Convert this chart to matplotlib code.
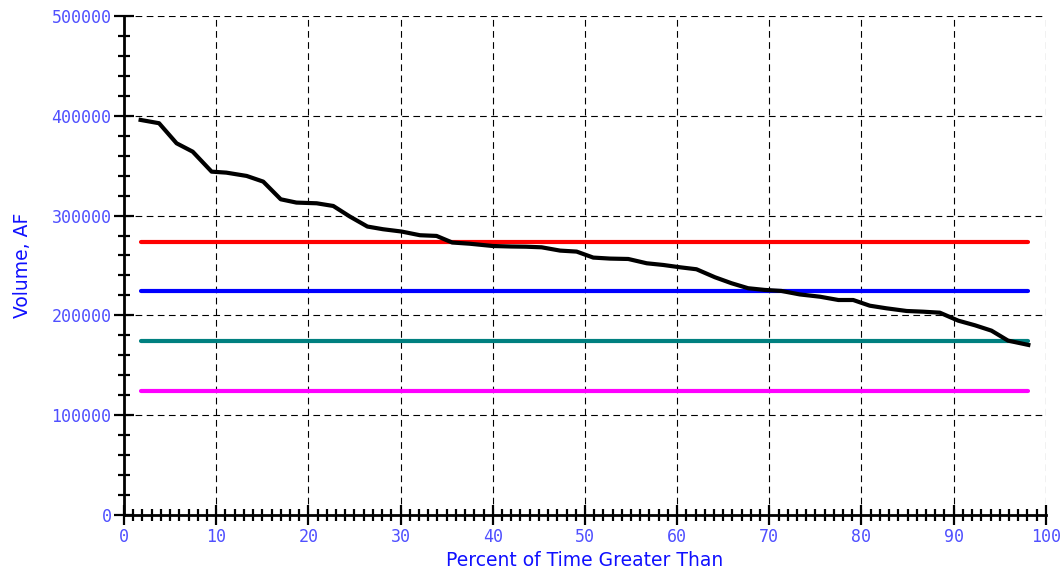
import numpy as np
import matplotlib.pyplot as plt
from matplotlib.ticker import MultipleLocator

# exceedance curve
pct_time = [1.8, 3.8, 5.7, 7.45, 9.5, 11.1, 13.3, 15.1, 17.0, 18.7, 20.9, 22.7,
            24.5, 26.4, 28.1, 30.1, 32.1, 33.9, 35.6, 37.5, 40.0, 42.0, 43.6,
            45.3, 47.3, 49.1, 50.9, 52.7, 54.7, 56.7, 58.5, 60.3, 62.1, 64.1,
            65.9, 67.7, 69.5, 71.3, 73.3, 75.5, 77.5, 79.1, 80.9, 82.7, 84.9,
            86.7, 88.5, 90.5, 92.3, 94.1, 95.9, 98.1]
volume = [395800, 392500, 372400, 364000, 344000, 343000, 339700, 334000,
          316300, 313000, 312300, 309600, 299000, 289000, 286300, 284000,
          280300, 279600, 273000, 271800, 269500, 269000, 268800, 268200,
          264900, 263900, 257900, 256900, 256500, 252200, 250500, 248200,
          246200, 238200, 232200, 227200, 225500, 224500, 221000, 218700,
          215400, 215400, 209700, 207100, 204400, 203700, 202700, 194700,
          190100, 184700, 174700, 170400]

# reference levels
levels = [274000, 224000, 174000, 124000]
level_colors = ['#ff0000', '#0000ff', '#008080', '#ff00ff']
x_span = [1.8, 98.1]

tick_color = '#5050ff'
label_color = '#1010ff'

fig = plt.figure(figsize=(10.62, 5.73), dpi=100)
ax = fig.add_axes([0.1168, 0.1012, 0.868, 0.871])

for lvl, c in zip(levels, level_colors):
    ax.plot(x_span, [lvl, lvl], color=c, lw=3.0, solid_capstyle='round', zorder=3)

ax.plot(pct_time, volume, color='black', lw=3.0, solid_joinstyle='round', zorder=4)

ax.set_xlim(0, 100)
ax.set_ylim(0, 500000)
ax.xaxis.set_major_locator(MultipleLocator(10))
ax.xaxis.set_minor_locator(MultipleLocator(1))
ax.yaxis.set_major_locator(MultipleLocator(100000))
ax.yaxis.set_minor_locator(MultipleLocator(20000))

ax.grid(True, which='major', color='black', lw=0.8, linestyle=(0, (6, 4)))
ax.set_axisbelow(True)

for side in ['top', 'right']:
    ax.spines[side].set_visible(False)
for side in ['left', 'bottom']:
    ax.spines[side].set_linewidth(2.0)

ax.tick_params(which='major', direction='inout', length=14, width=1.6,
               labelsize=12, labelcolor=tick_color, pad=2)
ax.tick_params(which='minor', direction='inout', length=8, width=1.6)
for lab in ax.get_xticklabels() + ax.get_yticklabels():
    lab.set_family('DejaVu Sans Mono')

ax.set_xlabel('Percent of Time Greater Than', color=label_color, fontsize=13.5, labelpad=4)
ax.set_ylabel('Volume, AF', color=label_color, fontsize=13.5, labelpad=14)

fig.savefig('out.png', dpi=100)
